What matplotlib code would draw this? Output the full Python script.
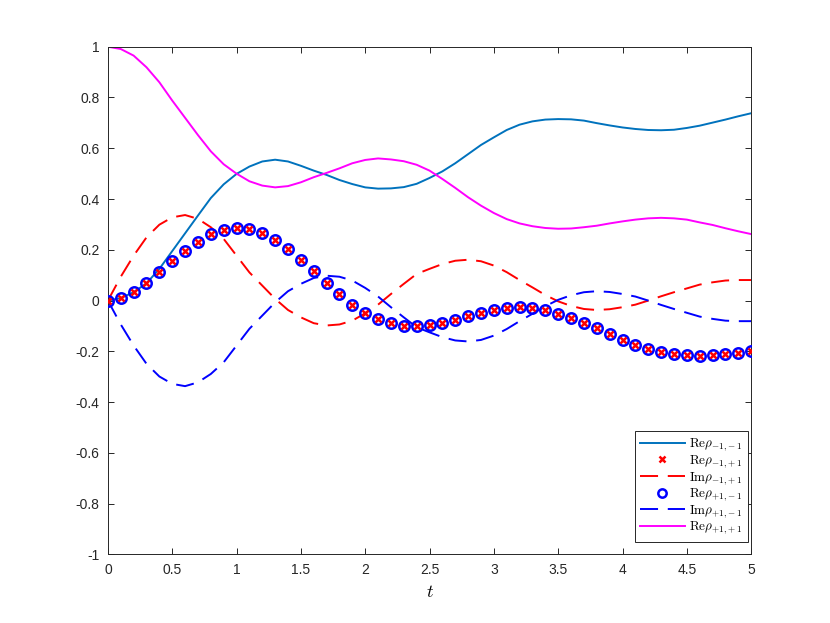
import matplotlib
matplotlib.use("Agg")
import matplotlib.pyplot as plt
from matplotlib.ticker import FuncFormatter
import numpy as np

# time grid (values read at 0.1 steps)
t = np.round(np.arange(0, 5.01, 0.1), 2)

re_mm = [0.0, 0.010, 0.033, 0.068, 0.125, 0.195, 0.265, 0.335, 0.404, 0.458,
         0.499, 0.528, 0.548, 0.555, 0.548, 0.531, 0.512, 0.495, 0.475, 0.459,
         0.446, 0.441, 0.442, 0.447, 0.460, 0.483, 0.509, 0.541, 0.577, 0.613,
         0.643, 0.672, 0.693, 0.706, 0.713, 0.715, 0.714, 0.709, 0.699, 0.690,
         0.682, 0.676, 0.672, 0.671, 0.673, 0.680, 0.689, 0.701, 0.713, 0.726,
         0.738]

re_mp = [0.0, 0.009, 0.033, 0.070, 0.112, 0.155, 0.194, 0.232, 0.261, 0.280,
         0.286, 0.281, 0.266, 0.239, 0.203, 0.160, 0.118, 0.070, 0.025, -0.016,
         -0.048, -0.073, -0.090, -0.100, -0.101, -0.096, -0.087, -0.075, -0.060, -0.047,
         -0.037, -0.029, -0.026, -0.029, -0.039, -0.052, -0.068, -0.088, -0.109, -0.133,
         -0.155, -0.173, -0.190, -0.203, -0.211, -0.216, -0.218, -0.215, -0.210, -0.206,
         -0.200]

im_mp = [0.0, 0.094, 0.177, 0.249, 0.299, 0.328, 0.337, 0.322, 0.289, 0.243,
         0.177, 0.111, 0.059, 0.007, -0.037, -0.066, -0.089, -0.098, -0.094, -0.079,
         -0.050, -0.016, 0.026, 0.066, 0.105, 0.125, 0.144, 0.157, 0.161, 0.155,
         0.138, 0.112, 0.081, 0.052, 0.022, -0.003, -0.021, -0.033, -0.037, -0.034,
         -0.026, -0.016, 0.000, 0.017, 0.033, 0.048, 0.063, 0.072, 0.079, 0.081,
         0.081]

re_pm = re_mp

im_pm = [0.0, -0.094, -0.177, -0.249, -0.299, -0.328, -0.337, -0.322, -0.289, -0.243,
         -0.177, -0.111, -0.059, -0.007, 0.037, 0.066, 0.089, 0.098, 0.094, 0.079,
         0.050, 0.016, -0.026, -0.066, -0.105, -0.125, -0.144, -0.157, -0.161, -0.155,
         -0.138, -0.112, -0.081, -0.052, -0.022, 0.003, 0.021, 0.033, 0.037, 0.034,
         0.026, 0.016, 0.000, -0.017, -0.033, -0.048, -0.063, -0.072, -0.079, -0.081,
         -0.081]

re_pp = [1.0, 0.991, 0.965, 0.919, 0.860, 0.788, 0.720, 0.652, 0.588, 0.537,
         0.500, 0.470, 0.453, 0.446, 0.451, 0.466, 0.486, 0.503, 0.521, 0.541,
         0.554, 0.560, 0.556, 0.549, 0.535, 0.512, 0.479, 0.444, 0.407, 0.374,
         0.345, 0.321, 0.304, 0.293, 0.286, 0.283, 0.284, 0.289, 0.295, 0.304,
         0.312, 0.319, 0.324, 0.326, 0.324, 0.319, 0.308, 0.298, 0.285, 0.273,
         0.262]

plt.rcParams['mathtext.fontset'] = 'cm'
plt.rcParams['font.family'] = ['Liberation Sans', 'DejaVu Sans']
plt.rcParams['lines.scale_dashes'] = False

fig = plt.figure(figsize=(8.3, 6.23), dpi=100)
ax = fig.add_axes([0.13, 0.11, 0.775, 0.815])

dash = (0, (13, 7))
ax.plot(t, re_mm, color='#0072BD', lw=1.4, label=r'$\mathrm{Re}\rho_{-1{,}-1}$')
ax.plot(t, re_mp, ls='none', marker='x', color='r', ms=4.5, mew=1.8,
        label=r'$\mathrm{Re}\rho_{-1{,}+1}$', zorder=4)
ax.plot(t, im_mp, color='r', lw=1.4, ls=dash, label=r'$\mathrm{Im}\rho_{-1{,}+1}$')
ax.plot(t, re_pm, ls='none', marker='o', mfc='none', mec='b', ms=7.5, mew=1.8,
        label=r'$\mathrm{Re}\rho_{+1{,}-1}$', zorder=3)
ax.plot(t, im_pm, color='b', lw=1.4, ls=dash, label=r'$\mathrm{Im}\rho_{+1{,}-1}$')
ax.plot(t, re_pp, color='#FF00FF', lw=1.4, label=r'$\mathrm{Re}\rho_{+1{,}+1}$')

ax.set_xlim(0, 5)
ax.set_ylim(-1, 1)
ax.set_xticks(np.arange(0, 5.01, 0.5))
ax.set_yticks(np.round(np.arange(-1, 1.01, 0.2), 1))
fmt = FuncFormatter(lambda v, p: '%g' % (round(v, 2) + 0.0))
ax.xaxis.set_major_formatter(fmt)
ax.yaxis.set_major_formatter(fmt)
ax.tick_params(direction='in', length=4.5, width=0.7, top=True, right=True,
               labelsize=10, colors='#262626', pad=6)
for s in ax.spines.values():
    s.set_color('#262626')
    s.set_linewidth(0.7)

ax.set_xlabel(r'$t$', fontsize=13, labelpad=5)

leg = ax.legend(loc='lower right', bbox_to_anchor=(0.995, 0.025), fontsize=9.5,
                fancybox=False, framealpha=1, edgecolor='#262626',
                handlelength=3.4, handletextpad=0.35, labelspacing=0.0,
                borderpad=0.4, borderaxespad=0)
leg.get_frame().set_linewidth(0.7)
for h in leg.legend_handles:
    if h.get_marker() == 'o':
        h.set_markersize(6)

fig.savefig('out.png', dpi=100)
